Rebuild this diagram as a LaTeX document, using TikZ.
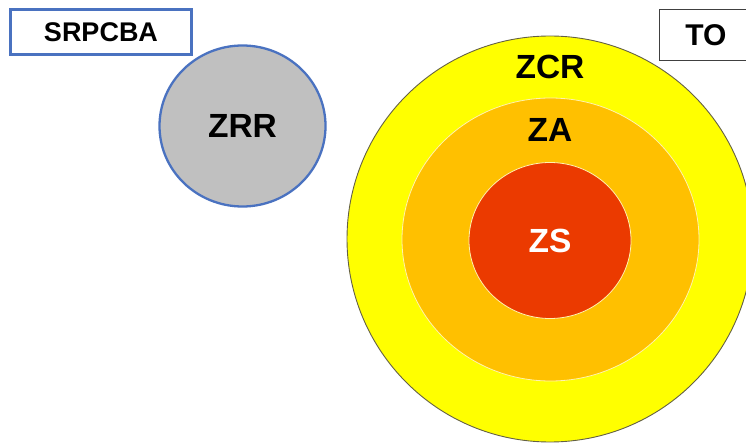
\documentclass[tikz,border=0pt]{standalone}
\usepackage{fontspec}
\setmainfont{Liberation Sans}
\usetikzlibrary{shapes.geometric}
\definecolor{zcryellow}{HTML}{FFFF00}
\definecolor{zaorange}{HTML}{FFC000}
\definecolor{zsred}{HTML}{EB3A00}
\definecolor{zrrgrey}{HTML}{C0C0C0}
\definecolor{edgeblue}{HTML}{4A72C0}
\definecolor{ringline}{HTML}{FFF2B0}

\begin{document}
\begin{tikzpicture}[x=1pt, y=-1pt,
    every node/.style={font=\bfseries\fontsize{33.5}{36}\selectfont},
    zone/.style={ellipse, inner sep=0pt},
    tag/.style={draw, rectangle, inner sep=0pt, font=\bfseries\fontsize{27}{30}\selectfont},
  ]
  \useasboundingbox (0,0) rectangle (746,443);
  \clip (0,0) rectangle (746,443);

  % Zones
  \node[zone, fill=zcryellow, draw=black!70!yellow, line width=0.9pt, minimum width=406, minimum height=406] (zcr) at (550,239) {};
  \node[zone, fill=zaorange, draw=ringline, line width=0.8pt, minimum width=297, minimum height=283] (za) at (550.5,239.5) {};
  \node[zone, fill=zsred, draw=ringline, line width=0.8pt, minimum width=162, minimum height=156] (zs) at (550,240.5) {};
  \node[zone, fill=zrrgrey, draw=edgeblue, line width=2.3pt, minimum width=166, minimum height=161] (zrr) at (242.5,126) {ZRR};

  % Labels
  \node (zcrtext) at (550,67) {ZCR};
  \node (zatext) at (550,130) {ZA};
  \node[text=white] (zstext) at (550,241) {ZS};

  % Tags
  \node[tag, draw=edgeblue, line width=2.3pt, minimum width=181, minimum height=45] (srpcba) at (101,32) {SRPCBA};
  \node[tag, draw=black!75, line width=1pt, minimum width=94, minimum height=51, font=\bfseries\fontsize{30}{32}\selectfont] (to) at (706,35) {TO};
\end{tikzpicture}
\end{document}
